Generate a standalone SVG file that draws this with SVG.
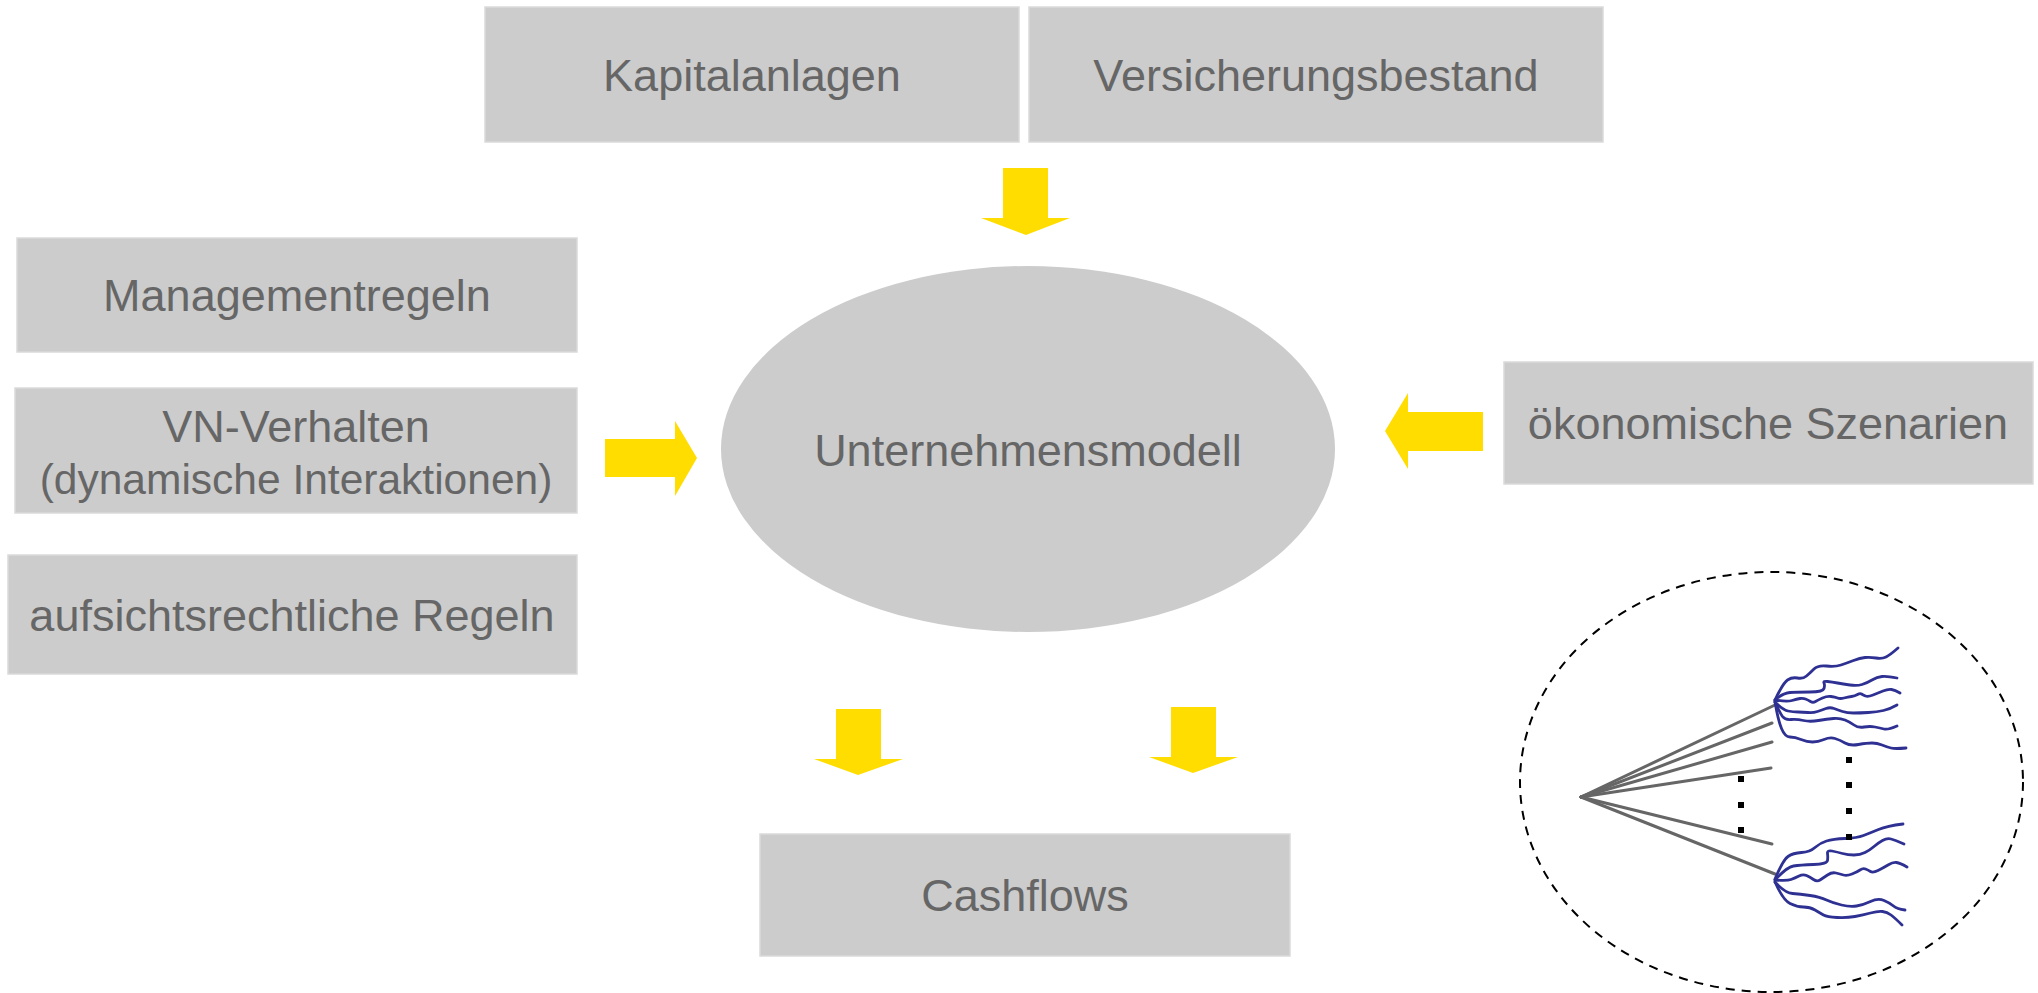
<svg xmlns="http://www.w3.org/2000/svg" width="2038" height="993" viewBox="0 0 2038 993">
  <style>
    .box { fill: #cccccc; stroke: #dadada; stroke-width: 1.5; }
    .lbl { font-family: "Liberation Sans", Arial, sans-serif; font-size: 45px; fill: #666666; text-anchor: middle; }
    .sub { font-size: 42.5px; }
    .flow { fill: #ffdd00; }
    .fan { stroke: #666666; stroke-width: 3; fill: none; stroke-linecap: round; }
    .path { stroke: #2e3192; stroke-width: 2.8; fill: none; stroke-linecap: round; stroke-linejoin: round; }
    .dot { fill: #000000; }
  </style>
  <rect width="2038" height="993" fill="#ffffff"/>

  <!-- input boxes -->
  <g id="kapitalanlagen">
    <rect class="box" x="485" y="7" width="534" height="135"/>
    <text class="lbl" x="752" y="91">Kapitalanlagen</text>
  </g>
  <g id="versicherungsbestand">
    <rect class="box" x="1029" y="7" width="574" height="135"/>
    <text class="lbl" x="1316" y="91">Versicherungsbestand</text>
  </g>
  <g id="managementregeln">
    <rect class="box" x="17" y="238" width="560" height="114"/>
    <text class="lbl" x="297" y="311">Managementregeln</text>
  </g>
  <g id="vn-verhalten">
    <rect class="box" x="15" y="388" width="562" height="125"/>
    <text class="lbl" x="296" y="442">VN-Verhalten</text>
    <text class="lbl sub" x="296" y="494">(dynamische Interaktionen)</text>
  </g>
  <g id="aufsichtsrecht">
    <rect class="box" x="8" y="555" width="569" height="119"/>
    <text class="lbl" x="292" y="631">aufsichtsrechtliche Regeln</text>
  </g>
  <g id="szenarien">
    <rect class="box" x="1504" y="362" width="529" height="122"/>
    <text class="lbl" x="1768" y="439">ökonomische Szenarien</text>
  </g>

  <!-- central model -->
  <g id="unternehmensmodell">
    <ellipse cx="1028" cy="449" rx="307" ry="183" fill="#cccccc"/>
    <text class="lbl" x="1028" y="466">Unternehmensmodell</text>
  </g>

  <!-- output -->
  <g id="cashflows">
    <rect class="box" x="760" y="834" width="530" height="122"/>
    <text class="lbl" x="1025" y="911">Cashflows</text>
  </g>

  <!-- block arrows -->
  <g id="connectors">
    <polygon class="flow" points="1003,168 1048,168 1048,218 1070,218 1026,235 981,218 1003,218"/>
    <polygon class="flow" points="605,439 675,439 675,421 697,458 675,496 675,477 605,477"/>
    <polygon class="flow" points="1483,412 1408,412 1408,393 1385,431 1408,469 1408,451 1483,451"/>
    <polygon class="flow" points="836,709 881,709 881,759 903,759 858,775 814,759 836,759"/>
    <polygon class="flow" points="1171,707 1216,707 1216,757 1238,757 1193,773 1149,757 1171,757"/>
  </g>

  <!-- scenario tree -->
  <g id="szenariobaum">
    <ellipse cx="1771.5" cy="782" rx="251.5" ry="210" fill="none" stroke="#000000" stroke-width="2" stroke-dasharray="9,7"/>
    <g id="fan-lines">
      <line class="fan" x1="1581" y1="797" x2="1775" y2="705"/>
      <line class="fan" x1="1581" y1="797" x2="1772" y2="723"/>
      <line class="fan" x1="1581" y1="797" x2="1772" y2="742"/>
      <line class="fan" x1="1581" y1="797" x2="1771" y2="768"/>
      <line class="fan" x1="1581" y1="797" x2="1772" y2="844"/>
      <line class="fan" x1="1581" y1="797" x2="1775" y2="874"/>
    </g>
    <g id="paths-upper">
      <path class="path" d="M1775,700 Q1783,683 1787.5,680 Q1792,677 1797.5,678 Q1803,679 1806.5,676 Q1810,673 1814,669 Q1818,665 1826.5,666 Q1835,667 1841,665 Q1847,663 1853.5,660.5 Q1860,658 1865,657.5 Q1870,657 1876,658 Q1882,659 1886,657 Q1890,655 1898,648"/>
      <path class="path" d="M1775,700 Q1783,693 1790,692.5 Q1797,692 1810,692 Q1823,692 1824,688.5 Q1825,685 1824,683 Q1823,681 1827.5,681.5 Q1832,682 1837.5,683 Q1843,684 1850,685 Q1857,686 1862,684.5 Q1867,683 1872,680 Q1877,677 1882,676.5 Q1887,676 1897,678"/>
      <path class="path" d="M1775,700 Q1787,702 1792,700.5 Q1797,699 1800,698.5 Q1803,698 1805.5,699 Q1808,700 1810.5,701.5 Q1813,703 1815.5,701.5 Q1818,700 1822.5,698 Q1827,696 1831,696.5 Q1835,697 1837.5,698 Q1840,699 1844,698 Q1848,697 1851.5,696.5 Q1855,696 1857.5,694.5 Q1860,693 1861.5,694 Q1863,695 1865.5,696 Q1868,697 1873,695 Q1878,693 1883,691 Q1888,689 1891.5,689.5 Q1895,690 1900,693"/>
      <path class="path" d="M1775,702 Q1783,710 1788,711 Q1793,712 1798,712 Q1803,712 1808,712.5 Q1813,713 1817.5,711.5 Q1822,710 1826,708.5 Q1830,707 1834,708.5 Q1838,710 1842.5,711.5 Q1847,713 1853.5,713 Q1860,713 1868.5,712.5 Q1877,712 1883.5,710.5 Q1890,709 1897,705"/>
      <path class="path" d="M1775,702 Q1780,713 1782.5,716.5 Q1785,720 1791,719.5 Q1797,719 1803.5,720.5 Q1810,722 1818.5,720.5 Q1827,719 1833.5,718.5 Q1840,718 1845,720 Q1850,722 1854,725 Q1858,728 1864,727 Q1870,726 1875,727 Q1880,728 1884,729 Q1888,730 1897,726"/>
      <path class="path" d="M1775,702 Q1778,720 1781.5,728.5 Q1785,737 1790,737 Q1795,737 1801,739.5 Q1807,742 1812.5,742 Q1818,742 1824,739.5 Q1830,737 1835,738.5 Q1840,740 1845,743 Q1850,746 1858.5,744.5 Q1867,743 1872,743 Q1877,743 1882,745 Q1887,747 1891,748 Q1895,749 1906,748"/>
    </g>
    <g id="paths-lower">
      <path class="path" d="M1775,879 Q1783,860 1788,856.5 Q1793,853 1801.5,852.5 Q1810,852 1815,847.5 Q1820,843 1826.5,841 Q1833,839 1845,838.5 Q1857,838 1863.5,835.5 Q1870,833 1878.5,829.5 Q1887,826 1903,824"/>
      <path class="path" d="M1775,880 Q1787,867 1793.5,866 Q1800,865 1813.5,864.5 Q1827,864 1827.5,860.5 Q1828,857 1827.5,853.5 Q1827,850 1832,851 Q1837,852 1842.5,853.5 Q1848,855 1854,855 Q1860,855 1865,852.5 Q1870,850 1874,846.5 Q1878,843 1882.5,840.5 Q1887,838 1891,839 Q1895,840 1904,844"/>
      <path class="path" d="M1775,880 Q1787,881 1791,879.5 Q1795,878 1799,876 Q1803,874 1806.5,875.5 Q1810,877 1813.5,879.5 Q1817,882 1820,880 Q1823,878 1827.5,875 Q1832,872 1836,873 Q1840,874 1843.5,875 Q1847,876 1852,874 Q1857,872 1860,870 Q1863,868 1865.5,869 Q1868,870 1870.5,871.5 Q1873,873 1878,870.5 Q1883,868 1888,865 Q1893,862 1896.5,862.5 Q1900,863 1907,867"/>
      <path class="path" d="M1775,882 Q1785,893 1792.5,893.5 Q1800,894 1810,895.5 Q1820,897 1826.5,900 Q1833,903 1841.5,905 Q1850,907 1856.5,906 Q1863,905 1870.5,901.5 Q1878,898 1884,900.5 Q1890,903 1893.5,906 Q1897,909 1905,910"/>
      <path class="path" d="M1775,882 Q1783,900 1790,903.5 Q1797,907 1803.5,907 Q1810,907 1815,910 Q1820,913 1823.5,915 Q1827,917 1837,917.5 Q1847,918 1855,916.5 Q1863,915 1870.5,913 Q1878,911 1882.5,911.5 Q1887,912 1891,915 Q1895,918 1902,925"/>
    </g>
    <g id="ellipsis-dots">
      <rect class="dot" x="1738" y="776" width="6" height="6"/>
      <rect class="dot" x="1738" y="802" width="6" height="6"/>
      <rect class="dot" x="1738" y="827" width="6" height="6"/>
      <rect class="dot" x="1846" y="757" width="6" height="6"/>
      <rect class="dot" x="1846" y="782" width="6" height="6"/>
      <rect class="dot" x="1846" y="808" width="6" height="6"/>
      <rect class="dot" x="1846" y="834" width="6" height="6"/>
    </g>
  </g>
</svg>
